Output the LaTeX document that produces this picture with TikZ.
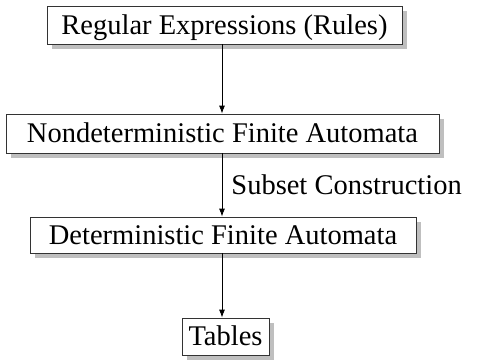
\documentclass[tikz,border=0pt]{standalone}
\usepackage{fontspec}
\setmainfont{Liberation Serif}
\usetikzlibrary{shadows,arrows.meta}
\begin{document}
\begin{tikzpicture}[x=1pt,y=1pt,
  txt/.style={font=\fontsize{28.5}{32}\selectfont, text height=18pt, text depth=0pt},
  box/.style={txt, draw=black!80, line width=0.8pt, fill=white, inner sep=0pt,
    drop shadow={shadow xshift=5pt, shadow yshift=-5pt, fill=black!25, opacity=1}},
  conn/.style={line width=0.8pt, -{Latex[length=8pt,width=6pt]}}]
\useasboundingbox (0,0) rectangle (481,-359);
\node[box, minimum width=355pt, minimum height=38pt] (re) at (224.5,-25) {Regular Expressions (Rules)};
\node[box, minimum width=433pt, minimum height=39pt] (nfa) at (222.5,-133.5) {Nondeterministic Finite Automata};
\node[box, minimum width=386pt, minimum height=36pt] (dfa) at (223,-235) {Deterministic Finite Automata};
\node[box, minimum width=87pt, minimum height=37pt] (tab) at (225.5,-336.5) {Tables};
\coordinate (a1) at (222,-44);
\coordinate (a2) at (222,-153);
\coordinate (a3) at (222,-253);
\draw[conn] (re.south -| a1) -- (nfa.north -| a1);
\draw[conn] (nfa.south -| a2) -- node[right, txt, inner sep=0pt, xshift=9pt] (lbl) {Subset Construction} (dfa.north -| a2);
\draw[conn] (dfa.south -| a3) -- (tab.north -| a3);
\end{tikzpicture}
\end{document}
